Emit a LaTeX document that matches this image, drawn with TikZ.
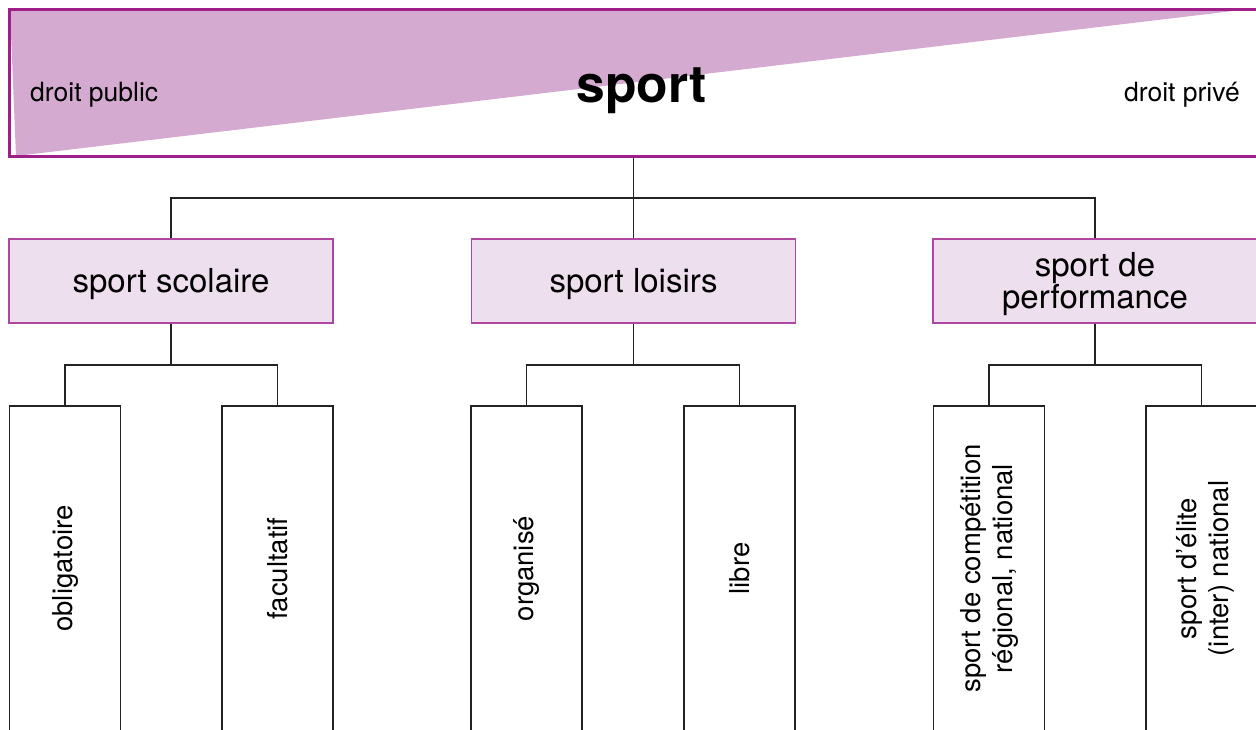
\documentclass[tikz,border=0pt]{standalone}
\usepackage{fontspec}
\setmainfont{TeX Gyre Heros}
\definecolor{bannerfill}{RGB}{212,170,208}
\definecolor{bannerline}{RGB}{160,30,135}
\definecolor{boxfill}{RGB}{238,223,238}
\definecolor{boxline}{RGB}{175,70,160}
\definecolor{conn}{RGB}{35,35,35}
\begin{document}
\begin{tikzpicture}[x=1pt,y=-1pt,
  banner/.style={draw=bannerline, line width=3pt, rectangle, inner sep=0pt, minimum width=1248pt, minimum height=147pt},
  midbox/.style={draw=boxline, fill=boxfill, line width=1.3pt, rectangle, inner sep=0pt, minimum width=324pt, minimum height=84pt},
  midtext/.style={align=center, font=\fontsize{33}{31}\selectfont, inner sep=0pt},
  leafbox/.style={draw=conn, line width=1.4pt, rectangle, inner sep=0pt, minimum width=111pt, minimum height=325pt},
  leaftext/.style={rotate=90, align=center, font=\fontsize{27.5}{32}\selectfont, inner sep=0pt},
  sidetext/.style={font=\fontsize{26.5}{30}\selectfont, inner sep=0pt},
  connector/.style={draw=conn, line width=1.4pt}
]
\useasboundingbox (0,0) rectangle (1256,729);
% banner triangle
\fill[bannerfill] (10,9) -- (1250,9) -- (16,156) -- cycle;
\node[banner] (banner) at (633.5,82.5) {};
\node[font=\fontsize{51.6}{55}\bfseries, anchor=base, inner sep=0pt] (title) at (641.5,102) {sport};
\node[sidetext, anchor=base west] (pub) at (30,101) {droit public};
\node[sidetext, anchor=base east] (priv) at (1240,101) {droit privé};
% level 2
\node[midbox] (scol) at (171,281) {};
\node[midbox] (lois) at (633.5,281) {};
\node[midbox] (perf) at (1095,281) {};
\node[midtext] (tscol) at (171,284) {sport scolaire};
\node[midtext] (tlois) at (633.5,284) {sport loisirs};
\node[midtext] (tperf) at (1095,284) {sport de\\performance};
% level 3
\node[leafbox] (obl) at (65,568.5) {};
\node[leafbox] (fac) at (277.5,568.5) {};
\node[leafbox] (org) at (526.5,568.5) {};
\node[leafbox] (lib) at (739.5,568.5) {};
\node[leafbox] (comp) at (989,568.5) {};
\node[leafbox] (elit) at (1201.5,568.5) {};
\node[leaftext] (toblig) at (obl.center) {obligatoire};
\node[leaftext] (tfac) at (fac.center) {facultatif};
\node[leaftext] (torg) at (org.center) {organisé};
\node[leaftext] (tlib) at (lib.center) {libre};
\node[leaftext] (tcomp) at (comp.center) {sport de compétition\\régional, national};
\node[leaftext] (telit) at ([xshift=3.5pt]elit.center) {sport d’élite\\(inter) national};
% connectors
\coordinate (j0) at (633.5,198);
\coordinate (j1) at (171,365);
\coordinate (j2) at (633.5,365);
\coordinate (j3) at (1095,365);
\draw[connector] (banner.south) -- (j0);
\draw[connector] (scol.north) |- (j0) -| (perf.north);
\draw[connector] (j0) -- (lois.north);
\draw[connector] (scol.south) -- (j1);
\draw[connector] (obl.north) |- (j1) -| (fac.north);
\draw[connector] (lois.south) -- (j2);
\draw[connector] (org.north) |- (j2) -| (lib.north);
\draw[connector] (perf.south) -- (j3);
\draw[connector] (comp.north) |- (j3) -| (elit.north);
\end{tikzpicture}
\end{document}
